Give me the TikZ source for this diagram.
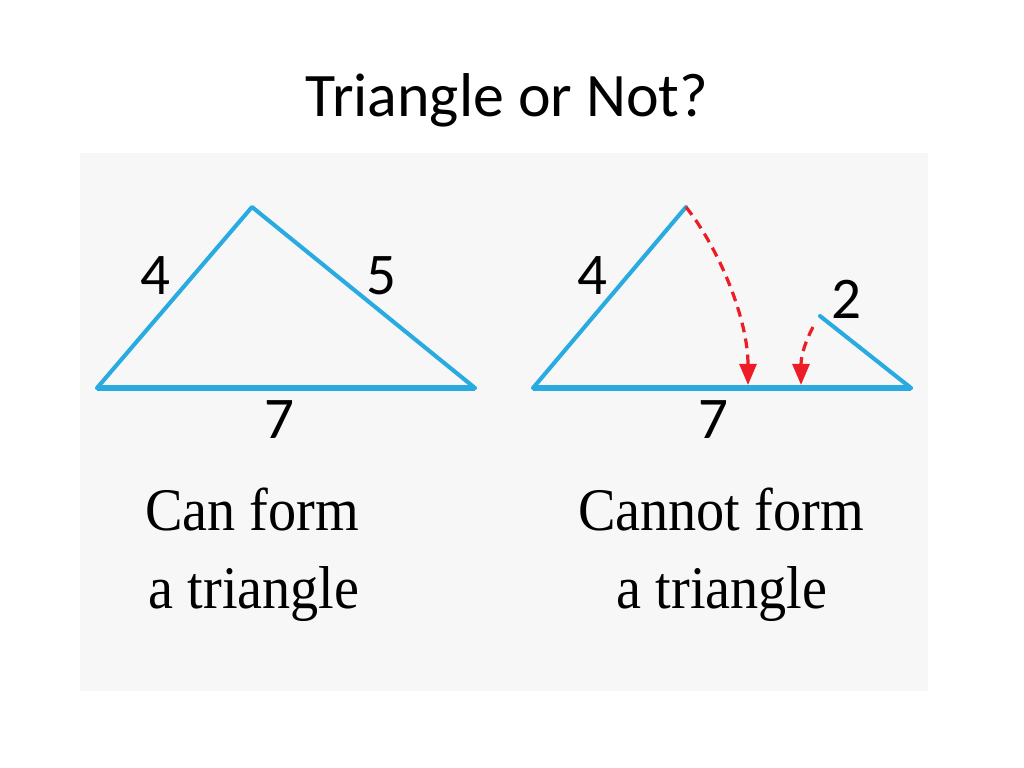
\documentclass[tikz,border=0pt]{standalone}
\usepackage{fontspec}
\setmainfont{Liberation Serif}
\newfontfamily\calib{Carlito}
\usetikzlibrary{arrows.meta}
\definecolor{sideblue}{HTML}{29ABE2}
\definecolor{panelgray}{HTML}{F7F7F7}
\definecolor{moved}{HTML}{EE1C25}
\tikzset{
    side/.style = {draw=sideblue, line width=2.9pt, line cap=round, line join=round},
    base/.style = {draw=sideblue, line width=3.6pt},
    len/.style = {inner sep=0pt, font=\calib\fontsize{42}{44}\selectfont},
    caption/.style = {inner sep=0pt, anchor=base, xscale=0.93,
        font=\fontsize{43}{46}\selectfont},
    swing/.style = {draw=moved, line width=2.3pt, dash pattern=on 7pt off 4.5pt,
        -{Triangle[length=15pt,width=12pt]}}
}

\begin{document}
\begin{tikzpicture}[x=0.025cm,y=-0.025cm]
    \useasboundingbox (0,0) rectangle (1024,768);
    \fill[panelgray] (80,153) rectangle (928,691);
    \node[inner sep=0pt, anchor=base, font=\calib\fontsize{44}{48}\selectfont]
        (title) at (507,117) {Triangle or Not?};

    % can form
    \coordinate(La) at (97,388);
    \coordinate(Lt) at (252,207);
    \coordinate(Lb) at (475,388);
    \draw [side] (La)--(Lt)--(Lb);
    \draw [base] (La)--(Lb);
    \node[len] (L4) at (155,276) {4};
    \node[len] (L5) at (381,276) {5};
    \node[len] (L7) at (279,420) {7};
    \node[caption] (Lc1) at (252,530) {Can form};
    \node[caption] (Lc2) at (254,608) {a triangle};

    % cannot form
    \coordinate(Ra) at (533,388);
    \coordinate(Rt) at (686,207);
    \coordinate(Rs) at (820,316);
    \coordinate(Rb) at (911,388);
    \coordinate(Rm) at (813,327);
    \coordinate(Rf1) at (748,385);
    \coordinate(Rf2) at (801,385);
    \draw [side] (Ra)--(Rt);
    \draw [side] (Rs)--(Rb);
    \draw [base] (Ra)--(Rb);
    \draw [swing] (Rt) .. controls (720,250) and (748,320) .. (Rf1);
    \draw [swing] (Rm) .. controls (806,340) and (801,355) .. (Rf2);
    \node[len] (R4) at (592,276) {4};
    \node[len] (R2) at (846,299) {2};
    \node[len] (R7) at (713,420) {7};
    \node[caption] (Rc1) at (721,530) {Cannot form};
    \node[caption] (Rc2) at (722,608) {a triangle};
\end{tikzpicture}
\end{document}
